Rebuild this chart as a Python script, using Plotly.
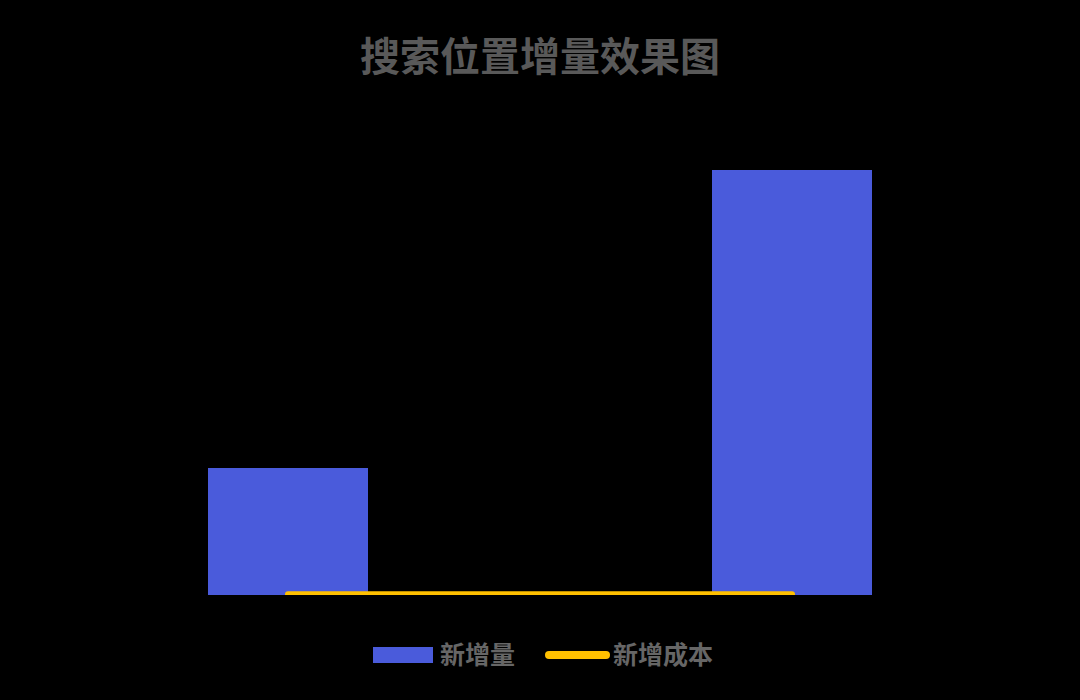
import plotly.graph_objects as go

# dane
categories = ["位置A", "位置B"]
new_volume = [300, 1000]
new_cost = [2, 2]

BLUE = "#4a5bdb"
YELLOW = "#ffc000"

# obszar wykresu w pikselach
W, H = 1080, 700
L, R, T, B = 36, 36, 128, 105


def px(x):
    return (x - L) / (W - L - R)


def py(y):
    return (H - B - y) / (H - T - B)


fig = go.Figure()
fig.add_trace(go.Bar(x=categories, y=new_volume, name="新增量",
                     marker=dict(color=BLUE, line=dict(width=0)),
                     width=0.317, showlegend=False))
fig.add_trace(go.Scatter(x=categories, y=new_cost, name="新增成本", mode="lines",
                         line=dict(color=YELLOW, width=6), showlegend=False))

# legenda rysowana recznie
fig.add_shape(type="rect", xref="paper", yref="paper",
              x0=px(373), x1=px(433), y0=py(663), y1=py(647),
              fillcolor=BLUE, line=dict(width=0))
fig.add_shape(type="line", xref="paper", yref="paper",
              x0=px(549), x1=px(606), y0=py(655), y1=py(655),
              line=dict(color=YELLOW, width=8))
legend_font = dict(family="Noto Sans CJK SC", size=25, color="#666666", weight=700)
fig.add_annotation(text="新增量", xref="paper", yref="paper", x=px(438), y=py(653),
                   xanchor="left", yanchor="middle", showarrow=False, font=legend_font)
fig.add_annotation(text="新增成本", xref="paper", yref="paper", x=px(611), y=py(653),
                   xanchor="left", yanchor="middle", showarrow=False, font=legend_font)

fig.update_layout(
    width=W, height=H,
    paper_bgcolor="black", plot_bgcolor="black",
    font=dict(family="Noto Sans CJK SC", color="#666666"),
    title=dict(text="搜索位置增量效果图", x=0.5, xanchor="center", y=1 - 57 / H, yanchor="middle",
               font=dict(size=40, color="#595959", weight=700)),
    margin=dict(l=L, r=R, t=T, b=B),
    showlegend=False,
    bargap=0,
)
fig.update_xaxes(showticklabels=False, showgrid=False, zeroline=False, showline=False,
                 range=[-0.5, 1.5])
fig.update_yaxes(showticklabels=False, showgrid=False, zeroline=False, showline=False,
                 range=[0, 1100])

# zaokraglone konce linii
js = """
document.body.style.margin='0';
document.querySelectorAll('.scatterlayer path.js-line, .shapelayer path').forEach(function(p){
    p.style.strokeLinecap='round';
});
"""
fig.write_html("out.html", config={"displayModeBar": False}, post_script=js)
